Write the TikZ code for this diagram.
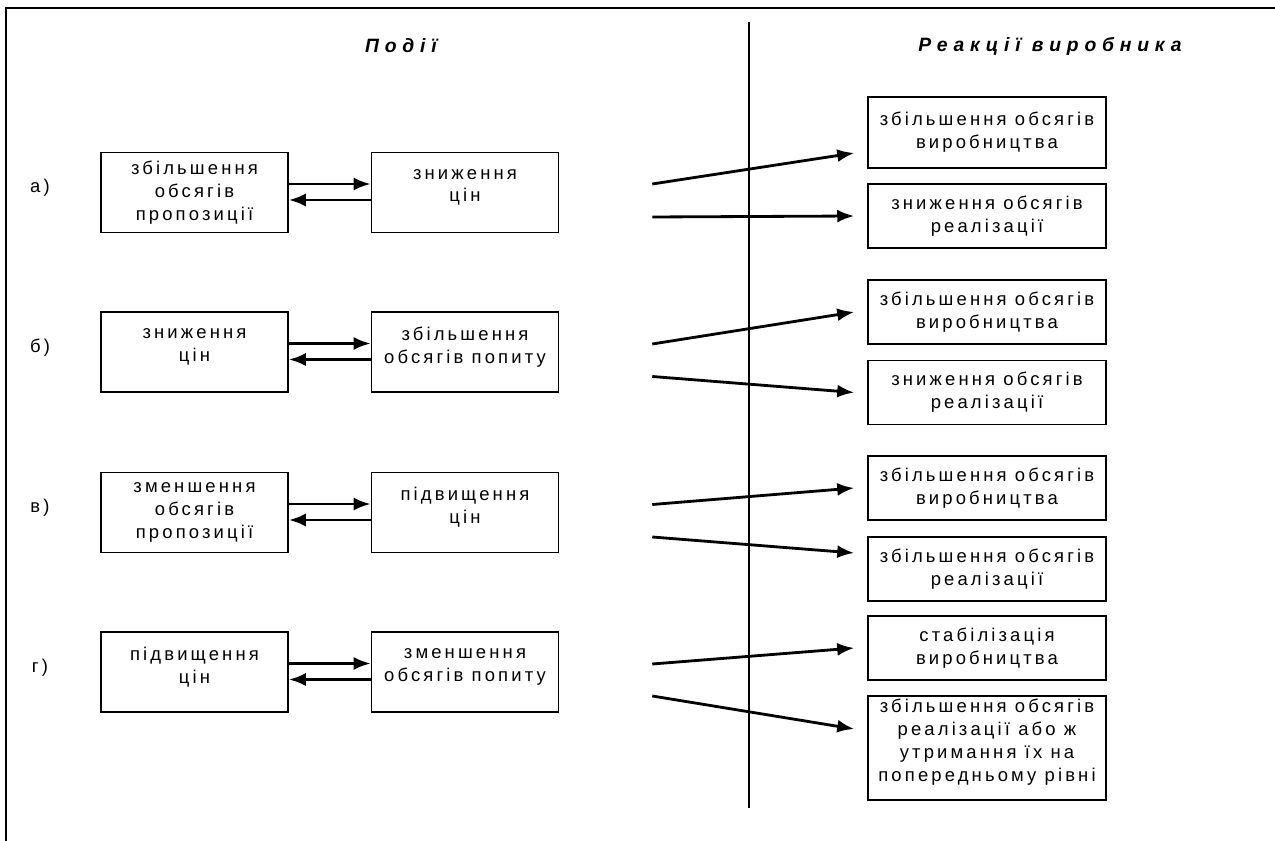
\documentclass[tikz,border=0pt]{standalone}
\usepackage{fontspec}
\setmainfont{Liberation Sans}
\newfontfamily\spaced[LetterSpace=17]{Liberation Sans}
\newfontfamily\headfont[LetterSpace=30]{Liberation Sans}
\usetikzlibrary{arrows.meta}
\tikzset{
  evt/.style={draw,line width=0.9pt,inner sep=0pt,align=center,
    minimum width=3.74cm,minimum height=1.6cm,
    font=\spaced\fontsize{10.5}{13}\selectfont},
  resp/.style={evt,minimum width=4.76cm,minimum height=1.28cm},
  flow/.style={line width=1.6pt,-{Latex[length=3.4mm,width=2.6mm]}},
  rowtag/.style={font=\spaced\fontsize{10.5}{13}\selectfont},
  head/.style={font=\headfont\bfseries\itshape\fontsize{11}{13}\selectfont}
}
\begin{document}
\begin{tikzpicture}[x=0.02cm,y=-0.02cm]
  \useasboundingbox (0,0) rectangle (1275,841);
  %% frame and divider
  \draw[line width=0.9pt] (1275,8) -- (6,8) -- (6,841);
  \draw[line width=0.9pt] (749,22) -- (749,808);
  %% headings
  \node[head] (hev) at (401,46) {Події};
  \node[head] (hre) at (1050,46) {Реакції виробника};
  %% row a
  \node[rowtag] (ka) at (40,188) {а)};
  \node[evt] (la) at (194.5,192.5) {збільшення\\обсягів\\пропозиції};
  \node[evt] (ma) at (465,192.5) {зниження\\цін\\[-5pt]\mbox{}};
  \node[resp,minimum height=1.42cm] (ra1) at (987,132.5) {збільшення обсягів\\виробництва};
  \node[resp] (ra2) at (987,216) {зниження обсягів\\реалізації};
  %% row b
  \node[rowtag] (kb) at (40,348) {б)};
  \node[evt] (lb) at (194.5,352) {зниження\\цін\\[-5pt]\mbox{}};
  \node[evt] (mb) at (465,352) {збільшення\\обсягів попиту\\[-5pt]\mbox{}};
  \node[resp] (rb1) at (987,312) {збільшення обсягів\\виробництва};
  \node[resp] (rb2) at (987,392.5) {зниження обсягів\\реалізації};
  %% row c
  \node[rowtag] (kc) at (40,508) {в)};
  \node[evt] (lc) at (194.5,512.5) {зменшення\\обсягів\\пропозиції};
  \node[evt] (mc) at (465,512.5) {підвищення\\цін\\[-5pt]\mbox{}};
  \node[resp] (rc1) at (987,488) {збільшення обсягів\\виробництва};
  \node[resp] (rc2) at (987,569) {збільшення обсягів\\реалізації};
  %% row d
  \node[rowtag] (kd) at (40,668) {г)};
  \node[evt] (ld) at (194.5,672) {підвищення\\цін\\[-5pt]\mbox{}};
  \node[evt] (md) at (465,672) {зменшення\\обсягів попиту\\[-5pt]\mbox{}};
  \node[resp] (rd1) at (987,648) {стабілізація\\виробництва};
  \node[resp,minimum height=2.08cm] (rd2) at (987,748) {збільшення обсягів\\реалізації або ж\\утримання їх на\\попередньому рівні\\[-4pt]\mbox{}};
  %% arrows
  \foreach \l/\m in {la/ma,lb/mb,lc/mc,ld/md}{
    \draw[flow] ([yshift=0.17cm]\l.east) -- ([yshift=0.17cm]\m.west);
    \draw[flow] ([yshift=-0.15cm]\m.west) -- ([yshift=-0.15cm]\l.east);
  }
  \draw[flow] ([shift={(1.86cm,0.17cm)}]ma.east) -- ([shift={(-0.26cm,-0.41cm)}]ra1.west);
  \draw[flow] ([shift={(1.86cm,-0.49cm)}]ma.east) -- ([shift={(-0.26cm,0cm)}]ra2.west);
  \draw[flow] ([shift={(1.86cm,0.16cm)}]mb.east) -- ([shift={(-0.26cm,0cm)}]rb1.west);
  \draw[flow] ([shift={(1.86cm,-0.49cm)}]mb.east) -- ([shift={(-0.26cm,0cm)}]rb2.west);
  \draw[flow] ([shift={(1.86cm,0.16cm)}]mc.east) -- ([shift={(-0.26cm,0cm)}]rc1.west);
  \draw[flow] ([shift={(1.86cm,-0.49cm)}]mc.east) -- ([shift={(-0.26cm,0.32cm)}]rc2.west);
  \draw[flow] ([shift={(1.86cm,0.16cm)}]md.east) -- ([shift={(-0.26cm,0cm)}]rd1.west);
  \draw[flow] ([shift={(1.86cm,-0.48cm)}]md.east) -- ([shift={(-0.26cm,0.38cm)}]rd2.west);
\end{tikzpicture}
\end{document}
